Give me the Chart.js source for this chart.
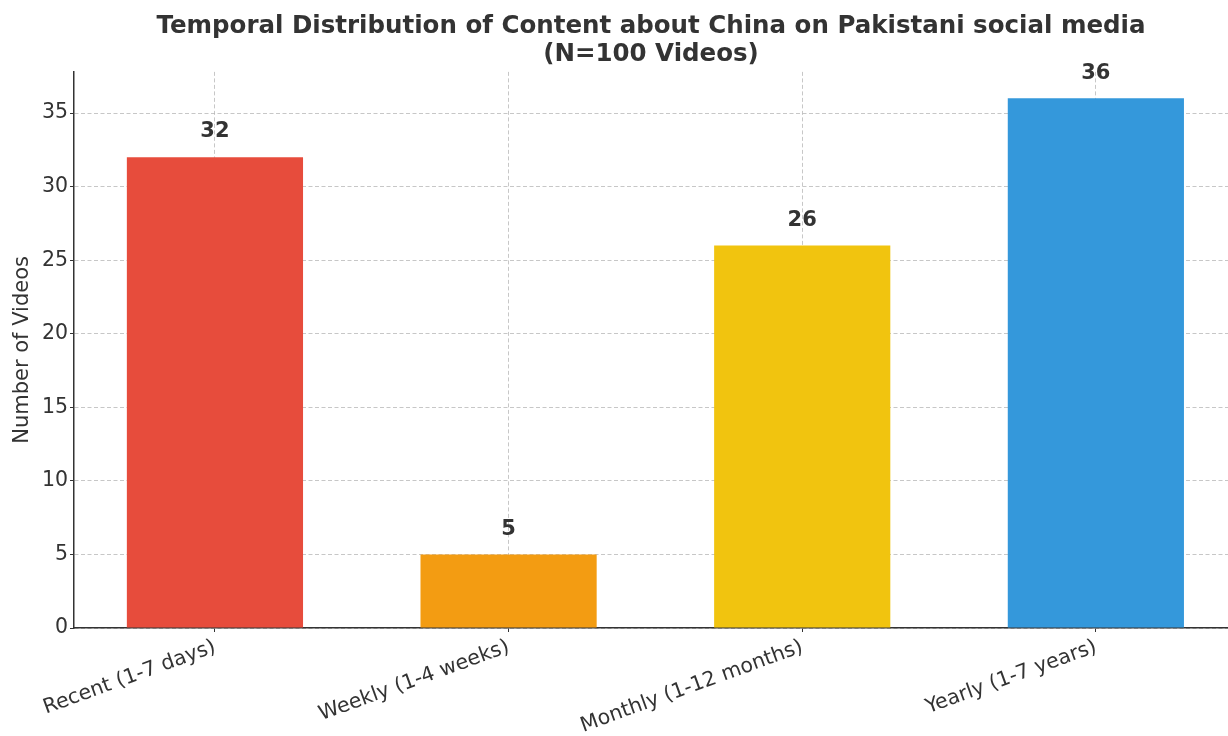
<!DOCTYPE html>
<html>
<head>
<meta charset="utf-8">
<script src="https://cdn.jsdelivr.net/npm/chart.js@4.4.1/dist/chart.umd.min.js"></script>
<style>
  html, body { margin: 0; padding: 0; background: #fff; overflow: hidden; }
  #wrap { width: 1228px; height: 736px; }
</style>
</head>
<body>
<div id="wrap"><canvas id="chart" width="1228" height="736"></canvas></div>
<script>
const categories = ["Recent (1-7 days)", "Weekly (1-4 weeks)", "Monthly (1-12 months)", "Yearly (1-7 years)"];
const counts = [32, 5, 26, 36];
const barColors = ["#e74c3c", "#f39c12", "#f1c40f", "#3498db"];
const yTicks = [0, 5, 10, 15, 20, 25, 30, 35];

Chart.defaults.font.family = "DejaVu Sans, sans-serif";
Chart.defaults.color = "#333";

// bar value labels, drawn over everything
const valueLabels = {
  id: "valueLabels",
  afterDraw(chart) {
    const { ctx, scales } = chart;
    ctx.save();
    ctx.font = "bold 21px DejaVu Sans";
    ctx.fillStyle = "#333";
    ctx.textAlign = "center";
    ctx.textBaseline = "bottom";
    counts.forEach((v, i) => {
      ctx.fillText(String(v), scales.x.getPixelForValue(i), scales.y.getPixelForValue(v + 1));
    });
    ctx.restore();
  },
};

const gridStyle = {
  color: "rgba(180,180,180,0.75)",
  lineWidth: 1,
  tickColor: "#333",
  tickLength: 4,
};

new Chart(document.getElementById("chart"), {
  type: "bar",
  data: {
    datasets: [
      {
        data: counts.map((v, i) => ({ x: i, y: v })),
        backgroundColor: barColors,
        categoryPercentage: 1,
        barPercentage: 0.6,
      },
    ],
  },
  options: {
    responsive: false,
    animation: false,
    layout: { padding: 0 },
    plugins: {
      legend: { display: false },
      tooltip: { enabled: false },
      title: {
        display: true,
        fullSize: false,
        text: ["Temporal Distribution of Content about China on Pakistani social media", "(N=100 Videos)"],
        color: "#333",
        font: { size: 24.5, weight: "bold", lineHeight: 1.12 },
        padding: { top: 13, bottom: 4 },
      },
    },
    scales: {
      x: {
        type: "linear",
        min: -0.48,
        max: 3.45,
        offset: false,
        z: 1,
        grid: { ...gridStyle, offset: false },
        border: { display: true, color: "#333", width: 1.5, dash: [4, 2.5] },
        ticks: {
          autoSkip: false,
          minRotation: 20,
          maxRotation: 20,
          padding: 3,
          font: { size: 20.5 },
          color: "#333",
          callback: (v) => categories[v],
        },
        afterBuildTicks: (scale) => {
          scale.ticks = categories.map((c, i) => ({ value: i }));
        },
        afterFit: (scale) => {
          scale.height = 108;
        },
      },
      y: {
        min: 0,
        max: 37.8,
        z: 1,
        grid: gridStyle,
        border: { display: true, color: "#333", width: 1.5, dash: [4, 2.5] },
        ticks: { padding: 2, font: { size: 20.5 }, color: "#333" },
        afterBuildTicks: (scale) => {
          scale.ticks = yTicks.map((t) => ({ value: t }));
        },
        afterFit: (scale) => {
          scale.width = 74;
        },
        title: {
          display: true,
          text: "Number of Videos",
          color: "#333",
          font: { size: 21 },
          padding: { top: 10, bottom: 0 },
        },
      },
    },
  },
  plugins: [valueLabels],
});
</script>
</body>
</html>
